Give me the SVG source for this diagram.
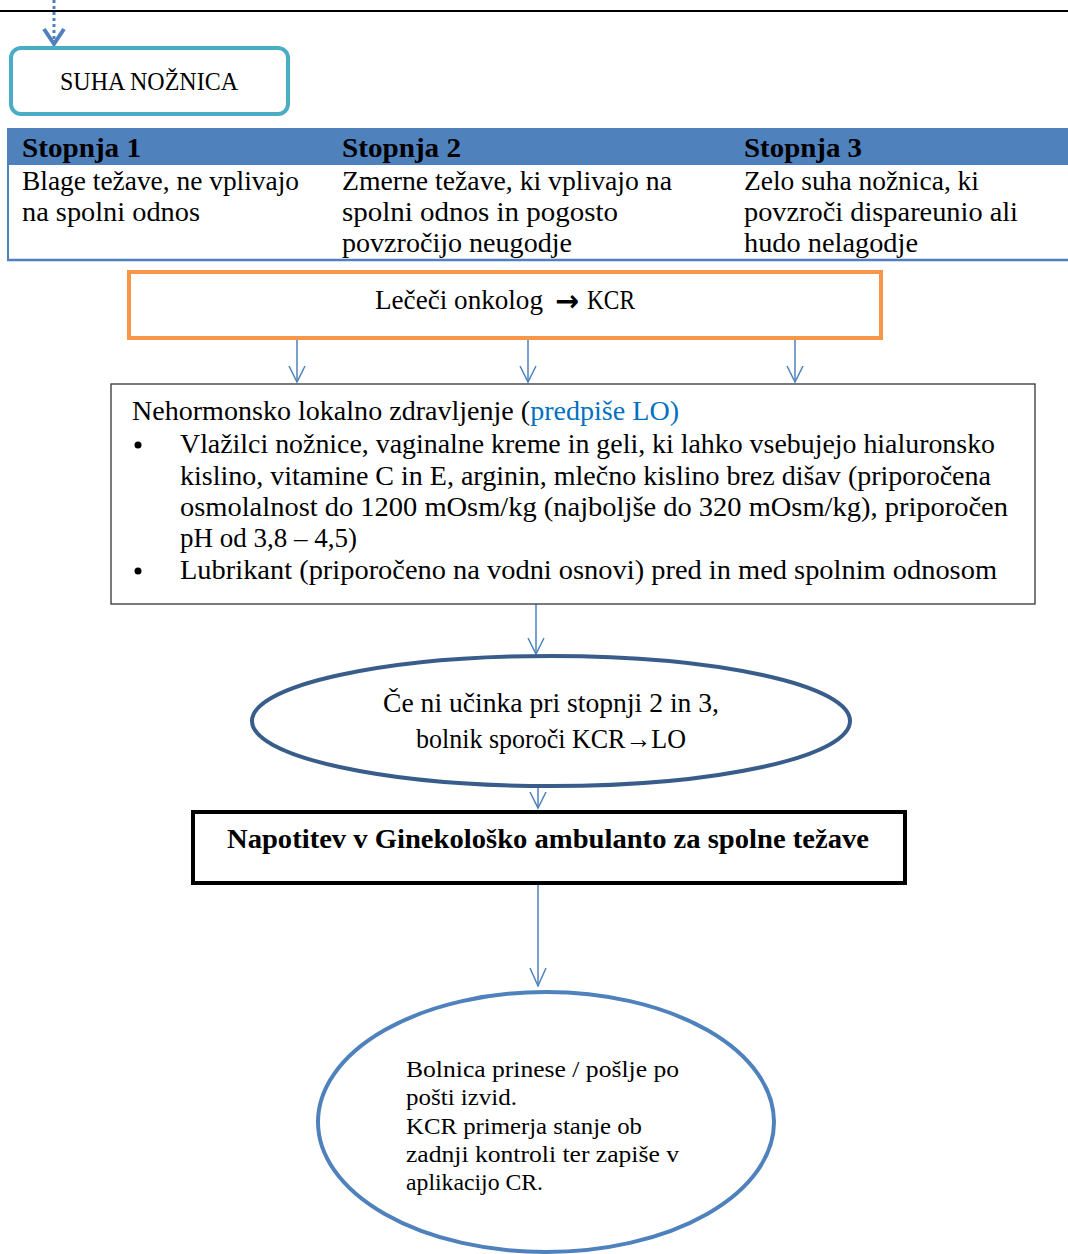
<svg xmlns="http://www.w3.org/2000/svg" width="1068" height="1254" viewBox="0 0 1068 1254" xml:space="preserve">
<style>
text{font-family:"Liberation Serif","DejaVu Serif",serif;fill:#000;}
.t26{font-size:27px;}
.b{font-weight:bold;}
.t22{font-size:23px;}
.arr{font-family:"DejaVu Sans",sans-serif;font-size:30px;font-weight:bold;}
.conn{stroke:#4F81BD;stroke-width:1.5;fill:none;}
.head{stroke:#4F81BD;stroke-width:1.5;fill:none;}
</style>
<rect width="1068" height="1254" fill="#fff"/>
<line x1="0" y1="11" x2="1068" y2="11" stroke="#000" stroke-width="2"/>

<g id="connectors">
  <line x1="54" y1="0" x2="54" y2="40" stroke="#4F81BD" stroke-width="3" stroke-dasharray="3,3"/>
  <path d="M44,29 L54,44 L64,29" stroke="#4F81BD" stroke-width="4" fill="none"/>
  <line class="conn" x1="297" y1="340" x2="297" y2="382"/>
  <path class="head" d="M289,366 L297,382 L305,366"/>
  <line class="conn" x1="528" y1="340" x2="528" y2="382"/>
  <path class="head" d="M520,366 L528,382 L536,366"/>
  <line class="conn" x1="795" y1="340" x2="795" y2="382"/>
  <path class="head" d="M787,366 L795,382 L803,366"/>
  <line class="conn" x1="536" y1="604" x2="536" y2="654"/>
  <path class="head" d="M528,638 L536,654 L544,638"/>
  <line class="conn" x1="538" y1="787" x2="538" y2="808"/>
  <path class="head" d="M530,792 L538,808 L546,792"/>
  <line class="conn" x1="538" y1="885" x2="538" y2="986"/>
  <path class="head" d="M530,968 L538,986 L546,968"/>
</g>

<g id="suha">
  <rect x="11" y="48" width="277" height="66" rx="10" fill="#fff" stroke="#4BACC6" stroke-width="4"/>
  <text x="60" y="90" font-size="26" textLength="178" lengthAdjust="spacingAndGlyphs">SUHA NOŽNICA</text>
</g>

<g id="table">
  <rect x="7" y="128" width="1061" height="37" fill="#4F81BD"/>
  <line x1="8" y1="128" x2="8" y2="260" stroke="#4F81BD" stroke-width="2"/>
  <line x1="7" y1="260" x2="1068" y2="260" stroke="#4F81BD" stroke-width="2.5"/>
  <text class="t26 b" x="22" y="157" textLength="119" lengthAdjust="spacingAndGlyphs">Stopnja  1</text>
  <text class="t26 b" x="342" y="157" textLength="119" lengthAdjust="spacingAndGlyphs">Stopnja  2</text>
  <text class="t26 b" x="744" y="157" textLength="118" lengthAdjust="spacingAndGlyphs">Stopnja  3</text>
  <text class="t26" x="22" y="190" textLength="277" lengthAdjust="spacingAndGlyphs">Blage težave, ne vplivajo</text>
  <text class="t26" x="22" y="221" textLength="178" lengthAdjust="spacingAndGlyphs">na spolni odnos</text>
  <text class="t26" x="342" y="190" textLength="330" lengthAdjust="spacingAndGlyphs">Zmerne težave, ki vplivajo na</text>
  <text class="t26" x="342" y="221" textLength="276" lengthAdjust="spacingAndGlyphs">spolni odnos in  pogosto</text>
  <text class="t26" x="342" y="252" textLength="230" lengthAdjust="spacingAndGlyphs">povzročijo neugodje</text>
  <text class="t26" x="744" y="190" textLength="235" lengthAdjust="spacingAndGlyphs">Zelo suha nožnica, ki</text>
  <text class="t26" x="744" y="221" textLength="274" lengthAdjust="spacingAndGlyphs">povzroči dispareunio ali</text>
  <text class="t26" x="744" y="252" textLength="174" lengthAdjust="spacingAndGlyphs">hudo nelagodje</text>
</g>

<g id="onkolog">
  <rect x="129" y="272" width="752" height="66" fill="#fff" stroke="#F79646" stroke-width="4"/>
  <text class="t26" x="375" y="309" textLength="168" lengthAdjust="spacingAndGlyphs">Lečeči onkolog</text>
  <text class="arr" x="555" y="311" textLength="24" lengthAdjust="spacingAndGlyphs">→</text>
  <text class="t26" x="587" y="309" textLength="48" lengthAdjust="spacingAndGlyphs">KCR</text>
</g>

<g id="nehormonsko">
  <rect x="111" y="384" width="924" height="220" fill="#fff" stroke="#333" stroke-width="1.3"/>
  <text class="t26" x="132" y="420" textLength="547" lengthAdjust="spacingAndGlyphs">Nehormonsko lokalno zdravljenje (<tspan fill="#0070C0">predpiše LO)</tspan></text>
  <circle cx="138" cy="445" r="3.5" fill="#000"/>
  <text class="t26" x="180" y="453" textLength="815" lengthAdjust="spacingAndGlyphs">Vlažilci nožnice, vaginalne kreme in geli, ki  lahko vsebujejo hialuronsko</text>
  <text class="t26" x="180" y="485" textLength="811" lengthAdjust="spacingAndGlyphs">kislino,  vitamine C in E, arginin, mlečno kislino brez dišav (priporočena</text>
  <text class="t26" x="180" y="516" textLength="828" lengthAdjust="spacingAndGlyphs">osmolalnost do 1200 mOsm/kg (najboljše do 320 mOsm/kg), priporočen</text>
  <text class="t26" x="180" y="547" textLength="177" lengthAdjust="spacingAndGlyphs">pH od 3,8 – 4,5)</text>
  <circle cx="138" cy="571" r="3.5" fill="#000"/>
  <text class="t26" x="180" y="579" textLength="817" lengthAdjust="spacingAndGlyphs">Lubrikant (priporočeno na vodni osnovi) pred in med spolnim odnosom</text>
</g>

<g id="ucinek">
  <ellipse cx="551" cy="721" rx="299" ry="65" fill="#fff" stroke="#385D8A" stroke-width="4"/>
  <text class="t26" x="383" y="712" textLength="336" lengthAdjust="spacingAndGlyphs">Če ni učinka pri stopnji 2 in 3,</text>
  <text class="t26" x="416" y="748" textLength="270" lengthAdjust="spacingAndGlyphs">bolnik sporoči KCR→LO</text>
</g>

<g id="napotitev">
  <rect x="193" y="812" width="712" height="71" fill="#fff" stroke="#000" stroke-width="4"/>
  <text class="t26 b" x="227" y="848" textLength="642" lengthAdjust="spacingAndGlyphs">Napotitev v Ginekološko ambulanto za spolne težave</text>
</g>

<g id="bolnica">
  <ellipse cx="546" cy="1122" rx="228" ry="130" fill="#fff" stroke="#4F81BD" stroke-width="4"/>
  <text class="t22" x="406" y="1077" textLength="273" lengthAdjust="spacingAndGlyphs">Bolnica prinese / pošlje po</text>
  <text class="t22" x="406" y="1105" textLength="111" lengthAdjust="spacingAndGlyphs">pošti izvid.</text>
  <text class="t22" x="406" y="1134" textLength="236" lengthAdjust="spacingAndGlyphs">KCR primerja stanje ob</text>
  <text class="t22" x="406" y="1162" textLength="273" lengthAdjust="spacingAndGlyphs">zadnji kontroli ter zapiše v</text>
  <text class="t22" x="406" y="1190" textLength="137" lengthAdjust="spacingAndGlyphs">aplikacijo CR.</text>
</g>
</svg>
